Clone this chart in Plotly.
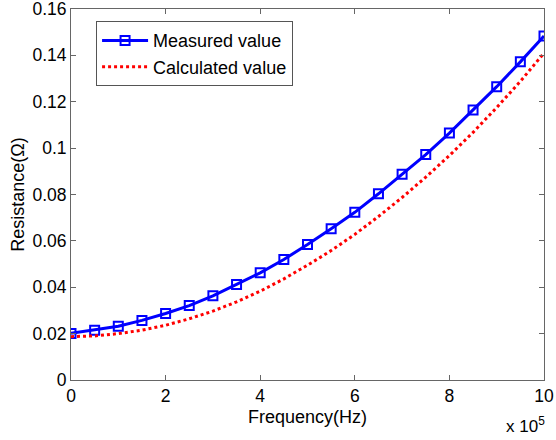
import plotly.graph_objects as go

freq_x1e5 = [0, 0.5, 1, 1.5, 2, 2.5, 3, 3.5, 4, 4.5, 5, 5.5, 6, 6.5, 7, 7.5, 8, 8.5, 9, 9.5, 10]
measured = [0.0201, 0.0215, 0.0232, 0.0257, 0.0287, 0.0321, 0.0363, 0.0412, 0.0462, 0.0520, 0.0584,
            0.0652, 0.0723, 0.0803, 0.0887, 0.0972, 0.1065, 0.1164, 0.1265, 0.1372, 0.1484]
calculated = [0.0187, 0.0190, 0.0200, 0.0215, 0.0236, 0.0264, 0.0297, 0.0337, 0.0383, 0.0436, 0.0495,
              0.0558, 0.0628, 0.0705, 0.0787, 0.0875, 0.0968, 0.1068, 0.1175, 0.1288, 0.1410]
x_ticks = [0, 2, 4, 6, 8, 10]
x_tick_text = ["0", "2", "4", "6", "8", "10"]
y_ticks = [0, 0.02, 0.04, 0.06, 0.08, 0.1, 0.12, 0.14, 0.16]
y_tick_text = ["0", "0.02", "0.04", "0.06", "0.08", "0.1", "0.12", "0.14", "0.16"]

FONT = "Liberation Sans, Arial, sans-serif"

fig = go.Figure()
fig.add_trace(go.Scatter(
    x=freq_x1e5, y=measured, name="Measured value", mode="lines+markers",
    line=dict(color="#0000ff", width=3),
    marker=dict(symbol="square-open", size=9, color="#0000ff", line=dict(width=2, color="#0000ff")),
))
fig.add_trace(go.Scatter(
    x=freq_x1e5, y=calculated, name="Calculated value", mode="lines",
    line=dict(color="#ff0000", width=3, dash="dot"),
))

axis_common = dict(
    showline=True, linecolor="#666666", linewidth=1, mirror="ticks",
    ticks="inside", ticklen=5, tickcolor="#666666", showgrid=False, zeroline=False,
    automargin=False, ticklabeloverflow="allow",
    tickfont=dict(family=FONT, size=17.5, color="black"),
)

fig.update_layout(
    width=556, height=440,
    margin=dict(l=71, r=12, t=9, b=60),
    paper_bgcolor="white", plot_bgcolor="white",
    font=dict(family=FONT, size=18, color="black"),
    xaxis=dict(range=[0, 10], tickvals=x_ticks, ticktext=x_tick_text,
               title=dict(text="Frequency(Hz)", font=dict(family=FONT, size=18), standoff=5),
               **axis_common),
    yaxis=dict(range=[0, 0.16], tickvals=y_ticks, ticktext=y_tick_text,
               title=dict(text="Resistance(Ω)", font=dict(family=FONT, size=18), standoff=3),
               **axis_common),
    legend=dict(x=0.053, y=0.967, xanchor="left", yanchor="top",
                bgcolor="white", bordercolor="#555555", borderwidth=1,
                font=dict(family=FONT, size=18), tracegroupgap=0, itemwidth=46),
    showlegend=True,
    annotations=[dict(text="x 10<sup>5</sup>", xref="paper", yref="paper", x=1.006, y=-0.155,
                      xanchor="right", yanchor="bottom", showarrow=False,
                      font=dict(family=FONT, size=17))],
)

fig.write_html("out.html", config={"displayModeBar": False},
               post_script="document.body.style.margin='0px';document.body.style.padding='0px';")
